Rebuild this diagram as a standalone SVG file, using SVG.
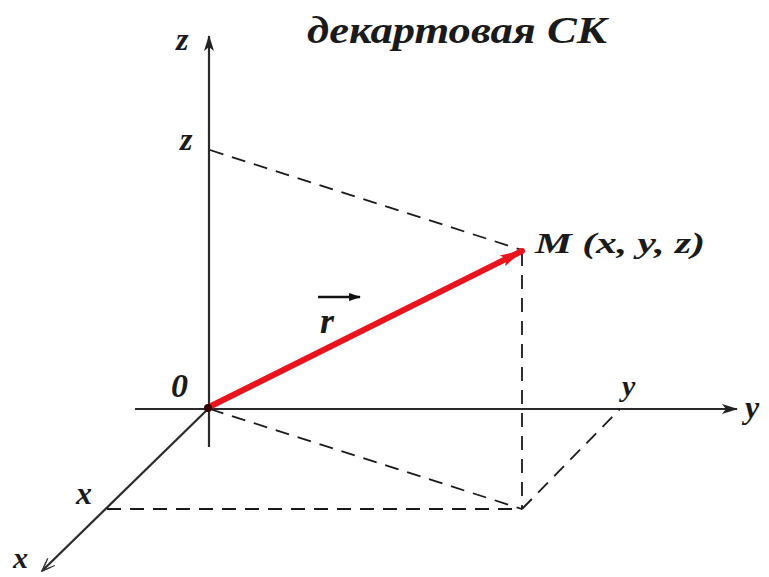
<svg xmlns="http://www.w3.org/2000/svg" width="769" height="577" viewBox="0 0 769 577">
<style>
.axis{stroke:#2a2a2a;stroke-width:2.2;fill:none}
.dash{stroke:#1a1a1a;stroke-width:1.8;fill:none;stroke-dasharray:14 9}
.lbl{font-family:"Liberation Serif","Times New Roman",serif;font-style:italic;font-weight:bold;fill:#1a1a1a}
</style>
<defs>
<marker id="ah" markerWidth="16" markerHeight="10" refX="15" refY="5" orient="auto" markerUnits="userSpaceOnUse">
<path d="M0,0 L16,5 L0,10 L4,5 Z" fill="#222"/>
</marker>
<marker id="ahx" markerWidth="16" markerHeight="12" refX="15" refY="6" orient="auto" markerUnits="userSpaceOnUse">
<path d="M2,1 L15,6 L2,11" fill="none" stroke="#333" stroke-width="1.3"/>
<path d="M6,2.5 L15,6 L6,9.5" fill="none" stroke="#333" stroke-width="1"/>
</marker>
<marker id="ahr" markerWidth="24" markerHeight="14" refX="22" refY="7" orient="auto" markerUnits="userSpaceOnUse">
<path d="M0,1 L24,7 L0,13 L5,7 Z" fill="#e8141e"/>
</marker>
<marker id="ahs" markerWidth="12" markerHeight="8" refX="11" refY="4" orient="auto" markerUnits="userSpaceOnUse">
<path d="M0,0 L12,4 L0,8 Z" fill="#111"/>
</marker>
</defs>
<text class="lbl" x="307" y="43" font-size="38" textLength="300" lengthAdjust="spacingAndGlyphs">декартовая СК</text>
<g id="connectors">
<line id="z-axis" class="axis" x1="209" y1="447" x2="209" y2="36" marker-end="url(#ah)"/>
<line id="y-axis" class="axis" x1="135" y1="409" x2="737" y2="409" marker-end="url(#ah)"/>
<line id="x-axis" class="axis" stroke-width="1.6" x1="209" y1="408" x2="42" y2="571" marker-end="url(#ahx)"/>
<line class="dash" x1="210" y1="150" x2="522" y2="250"/>
<line class="dash" x1="522" y1="252" x2="522" y2="509"/>
<line class="dash" x1="107" y1="509" x2="522" y2="509"/>
<line class="dash" x1="210" y1="409" x2="522" y2="509"/>
<line class="dash" x1="522" y1="509" x2="620" y2="409"/>
<line id="r-vector" x1="209" y1="407" x2="522" y2="251" stroke="#e8141e" stroke-width="6" marker-end="url(#ahr)"/>
<line x1="318" y1="297" x2="360" y2="297" stroke="#111" stroke-width="2.5" marker-end="url(#ahs)"/>
</g>
<g id="origin"><circle cx="208" cy="408" r="4" fill="#300"/><text class="lbl" x="171" y="397" font-size="34">0</text></g>
<g id="point-M"><circle cx="522" cy="251" r="3" fill="#e8141e"/><text class="lbl" x="535" y="253" font-size="30" textLength="170" lengthAdjust="spacingAndGlyphs">M (x, y, z)</text></g>
<text class="lbl" x="176" y="50" font-size="32">z</text>
<text class="lbl" x="180" y="150" font-size="32">z</text>
<text class="lbl" x="745" y="418" font-size="32">y</text>
<text class="lbl" x="622" y="396" font-size="30">y</text>
<text class="lbl" x="76" y="504" font-size="32">x</text>
<text class="lbl" x="13" y="568" font-size="30">x</text>
<text class="lbl" x="320" y="333" font-size="36">r</text>
</svg>
